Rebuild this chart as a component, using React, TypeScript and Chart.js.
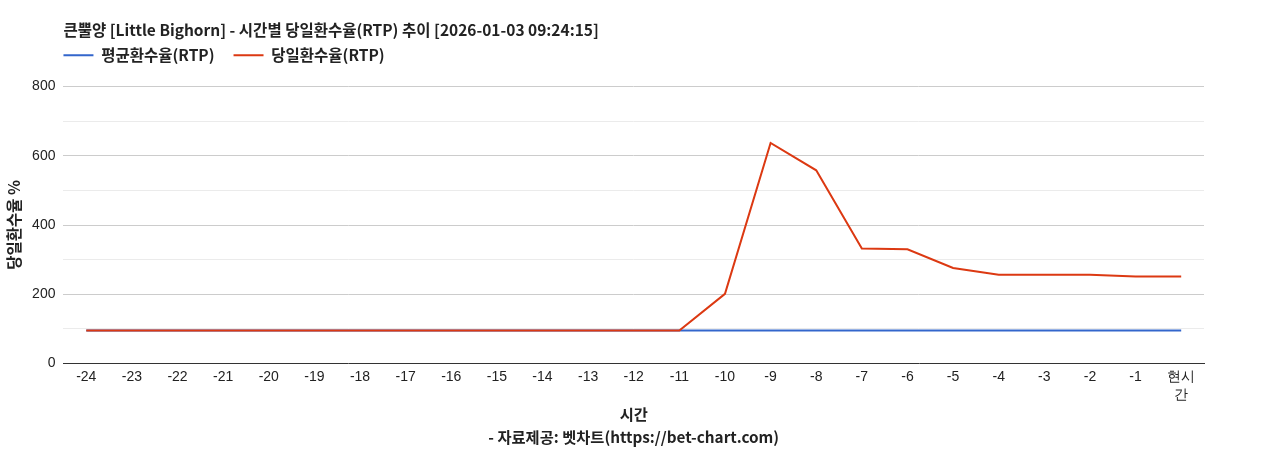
import { useEffect, useRef } from "react"
import { Chart, registerables } from "chart.js"

Chart.register(...registerables)

const hourLabels: (string | string[])[] = [
  "-24", "-23", "-22", "-21", "-20", "-19", "-18", "-17", "-16", "-15", "-14", "-13",
  "-12", "-11", "-10", "-9", "-8", "-7", "-6", "-5", "-4", "-3", "-2", "-1", ["현시", "간"],
]

const avgRtp = [
  95, 95, 95, 95, 95, 95, 95, 95, 95, 95, 95, 95, 95,
  95, 95, 95, 95, 95, 95, 95, 95, 95, 95, 95, 95,
]

const dailyRtp = [
  95, 95, 95, 95, 95, 95, 95, 95, 95, 95, 95, 95, 95,
  95, 201, 637, 558, 332, 330, 276, 256, 256, 256, 251, 251,
]

const titleText = "큰뿔양 [Little Bighorn] - 시간별 당일환수율(RTP) 추이 [2026-01-03 09:24:15]"
const KR = "'Noto Sans CJK KR', 'Noto Sans', sans-serif"
const LAT = "'Liberation Sans', Arial, sans-serif"
const LEGEND_PAD = 19

// legend sits flush with the plot's left edge, like the original
const legendShift = {
  id: "legendShift",
  afterLayout(chart: Chart) {
    const lg = chart.legend
    if (lg) {
      lg.left -= LEGEND_PAD
      lg.right -= LEGEND_PAD
    }
  },
}

export default function App() {
  const chartRef = useRef<HTMLCanvasElement>(null)
  const chartInstance = useRef<Chart | null>(null)

  useEffect(() => {
    if (!chartRef.current) return
    if (chartInstance.current) chartInstance.current.destroy()

    const ctx = chartRef.current.getContext("2d")
    if (!ctx) return

    chartInstance.current = new Chart(ctx, {
      type: "line",
      data: {
        labels: hourLabels,
        datasets: [
          {
            label: "평균환수율(RTP)",
            data: avgRtp,
            borderColor: "#3366cc",
            backgroundColor: "#3366cc",
            borderWidth: 2,
            pointRadius: 0,
            tension: 0,
            order: 2,
          },
          {
            label: "당일환수율(RTP)",
            data: dailyRtp,
            borderColor: "#dc3912",
            backgroundColor: "#dc3912",
            borderWidth: 2,
            pointRadius: 0,
            tension: 0,
            order: 1,
          },
        ],
      },
      plugins: [legendShift],
      options: {
        responsive: true,
        maintainAspectRatio: false,
        animation: false,
        layout: { padding: { left: 5, right: 64, top: 22.5, bottom: 1.5 } },
        plugins: {
          title: {
            display: true,
            text: titleText,
            align: "start",
            fullSize: false,
            color: "#222",
            font: { family: KR, size: 15.5, weight: "bold", lineHeight: 1 },
            padding: { top: 0, bottom: -9.5 },
          },
          subtitle: {
            display: true,
            text: "",
            fullSize: false,
            weight: 500,
            font: { size: 1, lineHeight: 1.2 },
            padding: { top: 0, bottom: 12.3 },
          },
          legend: {
            position: "top",
            align: "start",
            fullSize: false,
            labels: {
              boxWidth: 30,
              boxHeight: 0,
              padding: LEGEND_PAD,
              color: "#222",
              font: { family: KR, size: 15.5, weight: "bold" },
              sort: (a, b) => (a.datasetIndex ?? 0) - (b.datasetIndex ?? 0),
            },
          },
          tooltip: { enabled: false },
        },
        scales: {
          x: {
            offset: true,
            grid: { display: false, drawTicks: false },
            border: { display: true, color: "#333", width: 1 },
            ticks: {
              color: "#222",
              font: { family: LAT, size: 14, lineHeight: 1.286 },
              maxRotation: 0,
              autoSkip: false,
              padding: 5,
            },
            title: {
              display: true,
              text: ["시간", "- 자료제공: 벳차트(https://bet-chart.com)"],
              color: "#222",
              font: { family: KR, size: 15.3, weight: "bold", lineHeight: 1.503 },
              padding: { top: -7, bottom: 0 },
            },
          },
          y: {
            min: 0,
            max: 800,
            grid: {
              drawTicks: false,
              color: (c) =>
                c.tick && c.tick.value === 0
                  ? "rgba(0,0,0,0)"
                  : c.tick && c.tick.value % 200 === 0
                  ? "#cccccc"
                  : "#ebebeb",
            },
            border: { display: false },
            ticks: {
              stepSize: 100,
              color: "#222",
              font: { family: LAT, size: 14 },
              padding: 8,
              callback: (v) => (Number(v) % 200 === 0 ? String(v) : ""),
            },
            title: {
              display: true,
              text: "당일환수율 %",
              color: "#222",
              font: { family: KR, size: 15.5, weight: "bold" },
              padding: { top: 0, bottom: 0.5 },
            },
          },
        },
      },
    })

    return () => {
      if (chartInstance.current) {
        chartInstance.current.destroy()
        chartInstance.current = null
      }
    }
  }, [])

  return (
    <div style={{ position: "fixed", left: 0, top: 0, width: 1268, height: 450, background: "#fff" }}>
      <canvas ref={chartRef} />
    </div>
  )
}
